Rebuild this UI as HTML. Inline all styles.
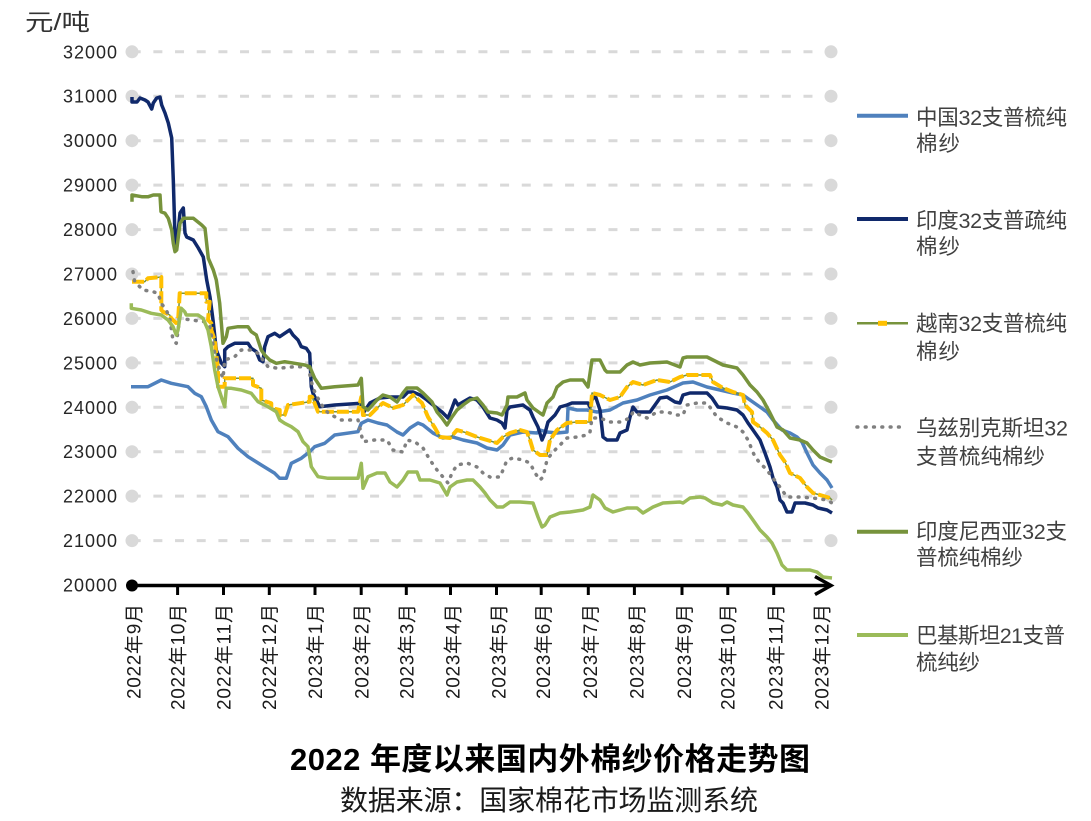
<!DOCTYPE html>
<html><head><meta charset="utf-8"><style>
html,body{margin:0;padding:0;background:#fff;}
svg{display:block;}
text{font-family:'Liberation Sans','Noto Sans CJK SC',sans-serif;}
</style></head><body>
<svg width="1091" height="821" viewBox="0 0 1091 821" xmlns="http://www.w3.org/2000/svg">
<rect width="1091" height="821" fill="#fff"/>
<text x="25" y="30" font-size="23" fill="#333" textLength="65" lengthAdjust="spacingAndGlyphs">元/吨</text>
<g stroke="#d9d9d9" stroke-width="3" stroke-dasharray="9 12.67">
<line x1="131.7" y1="51.8" x2="831" y2="51.8"/>
<line x1="131.7" y1="96.2" x2="831" y2="96.2"/>
<line x1="131.7" y1="140.7" x2="831" y2="140.7"/>
<line x1="131.7" y1="185.1" x2="831" y2="185.1"/>
<line x1="131.7" y1="229.6" x2="831" y2="229.6"/>
<line x1="131.7" y1="274" x2="831" y2="274"/>
<line x1="131.7" y1="318.4" x2="831" y2="318.4"/>
<line x1="131.7" y1="362.9" x2="831" y2="362.9"/>
<line x1="131.7" y1="407.3" x2="831" y2="407.3"/>
<line x1="131.7" y1="451.7" x2="831" y2="451.7"/>
<line x1="131.7" y1="496.1" x2="831" y2="496.1"/>
<line x1="131.7" y1="540.6" x2="831" y2="540.6"/>
</g>
<g fill="#d9d9d9">
<circle cx="132" cy="51.8" r="6.5"/><circle cx="831" cy="51.8" r="6.5"/>
<circle cx="132" cy="96.2" r="6.5"/><circle cx="831" cy="96.2" r="6.5"/>
<circle cx="132" cy="140.7" r="6.5"/><circle cx="831" cy="140.7" r="6.5"/>
<circle cx="132" cy="185.1" r="6.5"/><circle cx="831" cy="185.1" r="6.5"/>
<circle cx="132" cy="229.6" r="6.5"/><circle cx="831" cy="229.6" r="6.5"/>
<circle cx="132" cy="274" r="6.5"/><circle cx="831" cy="274" r="6.5"/>
<circle cx="132" cy="318.4" r="6.5"/><circle cx="831" cy="318.4" r="6.5"/>
<circle cx="132" cy="362.9" r="6.5"/><circle cx="831" cy="362.9" r="6.5"/>
<circle cx="132" cy="407.3" r="6.5"/><circle cx="831" cy="407.3" r="6.5"/>
<circle cx="132" cy="451.7" r="6.5"/><circle cx="831" cy="451.7" r="6.5"/>
<circle cx="132" cy="496.1" r="6.5"/><circle cx="831" cy="496.1" r="6.5"/>
<circle cx="132" cy="540.6" r="6.5"/><circle cx="831" cy="540.6" r="6.5"/>
</g>
<g font-size="18" fill="#262626" text-anchor="end">
<text x="117" y="58.3" textLength="54">32000</text>
<text x="117" y="102.7" textLength="54">31000</text>
<text x="117" y="147.2" textLength="54">30000</text>
<text x="117" y="191.6" textLength="54">29000</text>
<text x="117" y="236.1" textLength="54">28000</text>
<text x="117" y="280.5" textLength="54">27000</text>
<text x="117" y="324.9" textLength="54">26000</text>
<text x="117" y="369.4" textLength="54">25000</text>
<text x="117" y="413.8" textLength="54">24000</text>
<text x="117" y="458.2" textLength="54">23000</text>
<text x="117" y="502.6" textLength="54">22000</text>
<text x="117" y="547.1" textLength="54">21000</text>
<text x="117" y="591.5" textLength="54">20000</text>
</g>
<!-- axis -->
<g stroke="#000" stroke-width="3.5" fill="none">
<line x1="132" y1="585.5" x2="830" y2="585.5"/>
<polyline points="815,576.5 831,585.5 815,594.5" stroke-linejoin="miter"/>
</g>
<g stroke="#000" stroke-width="3">
<line x1="177.6" y1="586" x2="177.6" y2="595"/>
<line x1="223.5" y1="586" x2="223.5" y2="595"/>
<line x1="269.3" y1="586" x2="269.3" y2="595"/>
<line x1="315" y1="586" x2="315" y2="595"/>
<line x1="361.2" y1="586" x2="361.2" y2="595"/>
<line x1="406.3" y1="586" x2="406.3" y2="595"/>
<line x1="450.5" y1="586" x2="450.5" y2="595"/>
<line x1="496.5" y1="586" x2="496.5" y2="595"/>
<line x1="541.2" y1="586" x2="541.2" y2="595"/>
<line x1="588.3" y1="586" x2="588.3" y2="595"/>
<line x1="634.4" y1="586" x2="634.4" y2="595"/>
<line x1="682" y1="586" x2="682" y2="595"/>
<line x1="727.8" y1="586" x2="727.8" y2="595"/>
<line x1="773.7" y1="586" x2="773.7" y2="595"/>
</g>
<circle cx="132" cy="585.5" r="6" fill="#000"/>
<g font-size="19" fill="#1a1a1a" text-anchor="end">
<text transform="translate(140.3,604) rotate(-90)" textLength="95">2022年9月</text>
<text transform="translate(184.6,604) rotate(-90)" textLength="106">2022年10月</text>
<text transform="translate(230.3,604) rotate(-90)" textLength="106">2022年11月</text>
<text transform="translate(276.1,604) rotate(-90)" textLength="106">2022年12月</text>
<text transform="translate(321.8,604) rotate(-90)" textLength="95">2023年1月</text>
<text transform="translate(368.3,604) rotate(-90)" textLength="95">2023年2月</text>
<text transform="translate(413.3,604) rotate(-90)" textLength="95">2023年3月</text>
<text transform="translate(459.3,604) rotate(-90)" textLength="95">2023年4月</text>
<text transform="translate(505.3,604) rotate(-90)" textLength="95">2023年5月</text>
<text transform="translate(550,604) rotate(-90)" textLength="95">2023年6月</text>
<text transform="translate(596.8,604) rotate(-90)" textLength="95">2023年7月</text>
<text transform="translate(643.3,604) rotate(-90)" textLength="95">2023年8月</text>
<text transform="translate(690.8,604) rotate(-90)" textLength="95">2023年9月</text>
<text transform="translate(734.3,604) rotate(-90)" textLength="106">2023年10月</text>
<text transform="translate(782.6,604) rotate(-90)" textLength="106">2023年11月</text>
<text transform="translate(828.5,604) rotate(-90)" textLength="106">2023年12月</text>
</g>
<!-- series -->
<g fill="none" stroke-linejoin="round">
<polyline stroke="#4f81bd" stroke-width="3.5" points="131,386.7 148,386.7 161.3,380 171.3,383.3 188,386.7 194.7,393.3 201.3,396.7 206.3,406.7 211.3,420 218,431.7 228,436.7 238,448.3 248,456.7 261.3,465 274.7,473.3 279.7,478.3 286.3,478.3 291.3,463.3 301.3,458.3 309.7,451.7 314.7,446.7 324.7,443.3 334.7,435 358,431.7 361.3,423.3 368,420 378,423 387,425 397,432 403,435 410,428 418,423 423,425 433,433 443,438 453,437 463,440 477,443 487,448 497,450 503,445 510,435 523,432 537,433 540,430 547,432 557,433 567,432 568,408 577,410 587,410 597,412 610,410 623,403 637,400 650,395 667,390 683,383 693,382 707,387 720,390 733,393 743,395 750,400 760,407 767,412 773,420 782,430 790,433 797,437 802,442 807,453 813,465 820,473 827,480 832,488"/>
<polyline stroke="#10296b" stroke-width="3.5" points="132,97 132,102 137,102 140,98 145,100 148,102 151.7,109 153.3,103 156.7,98 160,97 161.7,105 165,113 168.3,123 171.7,138 173.3,180 175,237 176.7,245 180,213 183.3,208 185,233 186.7,237 193.3,240 198.3,248 203.3,257 206.7,280 210,297 213,320 216.3,350 221.3,363 224.7,366.7 224.7,350 228,346.7 234.7,343.3 248,343.3 251.3,348.3 256.3,351.7 259.7,360 263,361.7 264.7,346.7 268,336.7 274.7,333.3 279.7,336.7 284.7,333.3 289.7,330 293,335 298,340 301.3,346.7 306.3,348.3 309.7,353.3 311.3,386.7 313,393.3 314.7,396.7 319.7,406.7 334.7,405 361.3,403.3 363,413.3 370,403 380,398 390,397 403,397 408,392 413,392 420,395 427,400 433,405 442,412 448,418 452,408 455,400 458,405 463,402 470,398 477,400 483,407 490,418 497,420 502,423 505,428 507,410 510,407 523,405 527,408 530,410 533,417 538,427 542,440 545,433 548,422 555,415 560,407 567,405 572,403 588,403 590,407 592,400 595,395 600,410 603,437 607,440 617,440 620,433 627,430 630,417 633,407 637,412 650,412 655,405 660,398 667,397 675,402 680,403 683,395 690,393 707,393 712,398 718,407 727,408 737,410 743,415 748,423 753,430 760,440 765,453 770,467 773,478 777,487 780,500 783,503 787,512 792,512 795,503 805,503 813,505 818,508 827,510 832,513"/>
<polyline stroke="#77933c" stroke-width="1.5" points="132,281.7 144.7,281.7 148,278.3 161.3,277 161.3,310 163,311.7 169.7,315 171,318 176,323 178,322 179.7,293.3 206.3,293.3 206.3,301.7 209.7,301.7 208,320 211.3,323.3 211.3,330 214.7,340 218,370 218,386.7 224.7,386.7 224.7,378.3 253,378.3 253,385 261.3,388.3 261.3,400 271.3,403.3 271.3,408 279.7,410 279.7,415 284.7,415 288,405 309.7,401.7 309.7,396.7 312,396.7 318,411.7 358,411.7 361.3,397 363,415 370,415 377,408 383,403 393,408 403,405 413,395 422,403 428,417 435,428 440,437 450,438 457,430 467,433 477,437 487,440 497,443 503,437 510,433 520,430 527,432 530,440 533,450 540,455 547,455 550,440 557,430 567,423 577,422 590,422 592,393 600,395 610,400 620,397 627,387 633,382 643,385 657,380 670,382 680,377 687,375 710,375 713,382 723,388 733,392 743,395 745,405 752,412 753,422 760,427 767,433 773,440 780,455 785,462 790,473 800,478 807,487 813,493 820,495 830,498 832,500"/>
<polyline stroke="#ffc000" stroke-width="4" stroke-dasharray="12 3" points="132,281.7 144.7,281.7 148,278.3 161.3,277 161.3,310 163,311.7 169.7,315 171,318 176,323 178,322 179.7,293.3 206.3,293.3 206.3,301.7 209.7,301.7 208,320 211.3,323.3 211.3,330 214.7,340 218,370 218,386.7 224.7,386.7 224.7,378.3 253,378.3 253,385 261.3,388.3 261.3,400 271.3,403.3 271.3,408 279.7,410 279.7,415 284.7,415 288,405 309.7,401.7 309.7,396.7 312,396.7 318,411.7 358,411.7 361.3,397 363,415 370,415 377,408 383,403 393,408 403,405 413,395 422,403 428,417 435,428 440,437 450,438 457,430 467,433 477,437 487,440 497,443 503,437 510,433 520,430 527,432 530,440 533,450 540,455 547,455 550,440 557,430 567,423 577,422 590,422 592,393 600,395 610,400 620,397 627,387 633,382 643,385 657,380 670,382 680,377 687,375 710,375 713,382 723,388 733,392 743,395 745,405 752,412 753,422 760,427 767,433 773,440 780,455 785,462 790,473 800,478 807,487 813,493 820,495 830,498 832,500"/>
<polyline stroke="#808080" stroke-width="3.5" stroke-linecap="round" stroke-dasharray="0.8 7.5" points="133,271.7 134.7,281.7 143,290 153,291.7 158,293.3 161.3,303.3 166.3,310 169.7,318.3 173,340 176.3,343.3 179.7,318.3 191.3,320 204.7,321.7 209.7,326.7 214.7,353.3 219.7,370 223,378.3 224.7,360 234.7,356.7 241.3,350 251.3,350 258,353.3 268,366.7 278,368.3 294.7,366.7 308,366.7 313,388.3 318,398.3 324.7,410 331.3,415 341.3,420 358,420 363,441.7 374.7,440 387,440 393,450 403,452 407,440 415,442 423,448 430,460 437,470 443,477 448,483 452,473 457,465 467,463 477,467 483,473 490,477 500,477 503,470 507,460 513,458 523,460 530,463 535,473 540,480 543,477 547,460 552,453 558,447 567,438 577,437 587,435 590,432 592,418 600,418 610,422 620,422 630,418 633,412 647,418 657,412 667,412 677,415 683,415 687,405 697,403 707,403 717,417 727,423 737,427 743,432 748,440 755,457 760,463 767,470 772,477 777,483 782,490 787,497 800,497 813,498 827,500 832,503"/>
<polyline stroke="#77933c" stroke-width="3.5" points="132,201.7 132,195 141.7,196.7 148.3,196.7 153.3,195 160,195 161,211.7 165,213.3 168.3,218.3 171.7,230 173.3,243.3 175,251.7 176.7,250 180,223.3 183.3,218.3 193.3,218.3 201.7,225 205,228.3 208.3,258.3 213.3,270 216.3,280 219.7,303.3 223,343.3 226.3,336.7 228,328.3 238,326.7 248,326.7 251.3,331.7 256.3,335 261.3,350 264.7,355 269.7,360 276.3,363.3 284.7,361.7 294.7,363.3 304.7,365 309.7,366.7 314.7,378.3 321.3,388.3 334.7,386.7 358,385 361.3,378.3 363,406.7 368,410 377,400 383,395 390,397 397,402 403,393 407,388 417,388 423,393 432,402 437,412 442,418 447,425 452,417 457,410 463,405 470,400 477,398 483,405 488,412 497,413 502,415 507,405 508,397 517,397 525,393 527,400 533,408 540,413 543,415 547,403 553,397 557,387 563,382 570,380 583,380 588,387 592,360 600,360 605,370 607,372 620,372 627,365 633,362 640,365 650,363 667,362 680,367 683,358 687,357 707,357 713,360 723,365 737,368 743,375 750,385 757,392 763,400 770,413 777,427 783,430 790,438 800,440 807,443 813,450 820,457 827,460 832,462"/>
<polyline stroke="#9bbb59" stroke-width="3.5" points="131.3,303.3 131.3,308.3 141.3,310 151.3,313.3 161.3,315 168,320 173,326.7 176.3,335 178,330 181.3,308.3 184.7,311.7 186.3,315 198,315 203,318.3 208,330 211.3,346.7 214.7,370 218,386.7 221.3,396.7 224.7,406.7 226.3,388.3 231.3,388.3 241.3,390 251.3,393.3 258,401.7 268,406.7 276.3,411.7 279.7,420 284.7,423.3 291.3,426.7 298,431.7 303,441.7 308,446.7 311.3,466.7 318,476.7 328,478.3 358,478.3 361.3,463.3 363,488.3 368,476.7 377,473 385,473 390,482 397,487 403,480 408,472 417,472 420,480 430,480 440,483 447,495 450,487 457,482 467,480 473,480 480,487 485,493 490,500 497,507 503,507 510,502 520,502 533,503 538,517 542,527 545,525 550,517 560,513 570,512 583,510 590,507 593,495 600,500 605,508 613,512 627,508 637,508 643,513 653,507 663,503 680,502 683,503 690,498 700,497 705,498 713,503 722,505 727,502 733,505 743,507 748,513 753,520 760,530 767,537 772,543 777,553 782,565 787,570 793,570 810,570 817,572 823,577 832,578"/>
</g>
<!-- legend -->
<g stroke-width="4">
<line x1="857" y1="115.7" x2="908" y2="115.7" stroke="#4f81bd"/>
<line x1="857" y1="219" x2="908" y2="219" stroke="#10296b"/>
<line x1="857" y1="323.3" x2="908" y2="323.3" stroke="#77933c" stroke-width="2.5"/>
<line x1="857" y1="427" x2="900" y2="427" stroke="#808080" stroke-width="3.5" stroke-linecap="round" stroke-dasharray="0.8 7.5"/>
<line x1="857" y1="531.7" x2="908" y2="531.7" stroke="#77933c"/>
<line x1="857" y1="635" x2="908" y2="635" stroke="#9bbb59"/>
</g>
<rect x="878" y="320.8" width="9" height="5" fill="#ffc000"/>
<g font-size="21.5" fill="#404040">
<text x="916" y="125" textLength="151">中国32支普梳纯</text>
<text x="916" y="151" textLength="44">棉纱</text>
<text x="916" y="228" textLength="151">印度32支普疏纯</text>
<text x="916" y="254" textLength="44">棉纱</text>
<text x="916" y="331" textLength="151">越南32支普梳纯</text>
<text x="916" y="359" textLength="44">棉纱</text>
<text x="916" y="435.5" textLength="152">乌兹别克斯坦32</text>
<text x="916" y="464" textLength="129">支普梳纯棉纱</text>
<text x="916" y="539" textLength="151">印度尼西亚32支</text>
<text x="916" y="565" textLength="107">普梳纯棉纱</text>
<text x="916" y="643" textLength="149">巴基斯坦21支普</text>
<text x="916" y="670" textLength="64">梳纯纱</text>
</g>
<text x="550" y="770" font-size="31" font-weight="bold" fill="#000" text-anchor="middle" textLength="520">2022 年度以来国内外棉纱价格走势图</text>
<text x="549" y="810" font-size="28" fill="#1a1a1a" text-anchor="middle" textLength="418">数据来源：国家棉花市场监测系统</text>
</svg>
</body></html>
